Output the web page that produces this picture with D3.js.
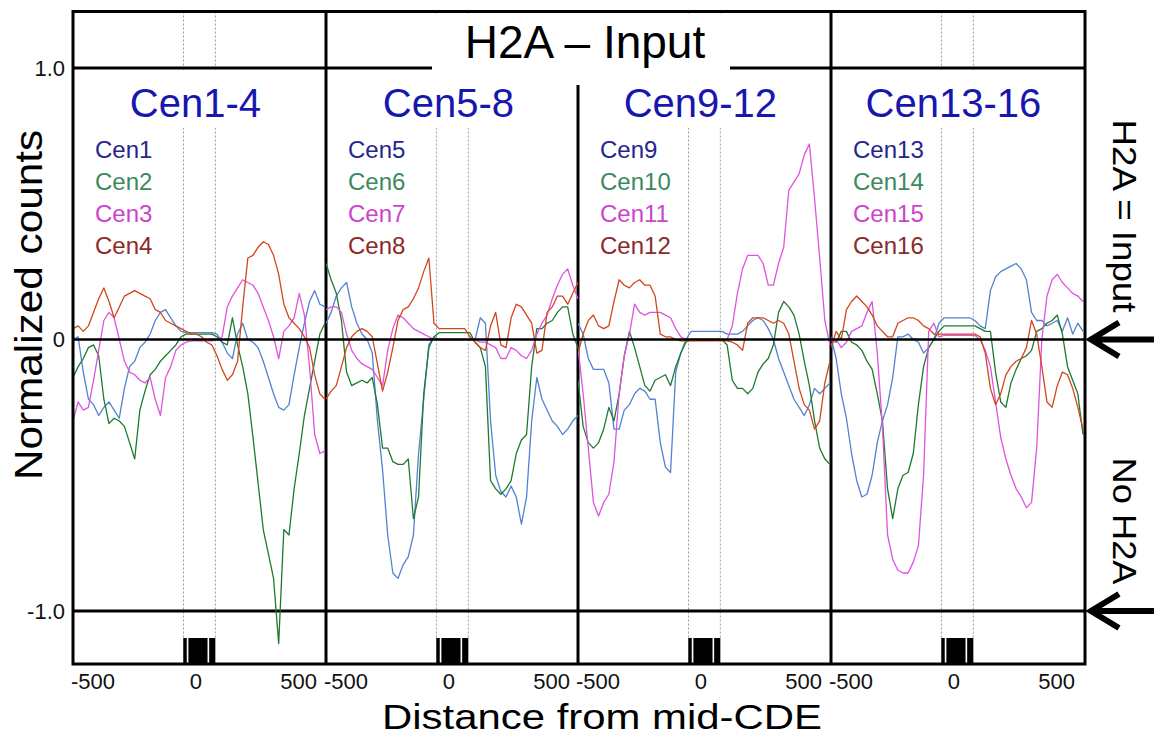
<!DOCTYPE html>
<html lang="en">
  <head>
    <meta charset="utf-8">
    <title>H2A - Input</title>
    <script src="https://d3js.org/d3.v7.min.js"></script>
    <style>
      body { margin: 0; background: white; }
      text { font-family: "Liberation Sans", Arial, sans-serif; }
    </style>
  </head>

  <body>
  <script>

    // positions (bp from mid-CDE) shared by every profile
    const positions = [-595, -570, -545, -520, -495, -470, -445, -420, -395, -370,
                       -345, -320, -295, -270, -245, -220, -195, -170, -145, -120,
                       -95, -70, -45, -20, 5, 30, 55, 80, 105, 130,
                       155, 180, 205, 230, 255, 280, 305, 330, 355, 380,
                       405, 430, 455, 480, 505, 530, 555, 580, 605, 630];

    const panelTitles = ["Cen1-4", "Cen5-8", "Cen9-12", "Cen13-16"];
    const seriesNames = [["Cen1", "Cen2", "Cen3", "Cen4"],
                         ["Cen5", "Cen6", "Cen7", "Cen8"],
                         ["Cen9", "Cen10", "Cen11", "Cen12"],
                         ["Cen13", "Cen14", "Cen15", "Cen16"]];

    const xTicks = [-500, 0, 500];
    const yTicks = [1, 0, -1];
    // CDEI, CDEII, CDEIII blocks and the dotted guide lines
    const cdeBlocks = [[-59, -42], [-34, 59], [67, 97]];
    const cdeGuides = [-58, 97];

    const cen1 = [0.00, 0.01, -0.12, -0.22, -0.24, -0.28, -0.25, -0.23, -0.26, -0.29,
                  -0.18, -0.10, -0.08, -0.03, -0.01, 0.02, 0.07, 0.10, 0.11, 0.08,
                  0.05, 0.03, 0.025, 0.025, 0.025, 0.025, 0.025, 0.025, 0.02, -0.01,
                  -0.05, -0.07, 0.02, 0.06, 0.00, -0.01, -0.03, -0.08, -0.14, -0.20,
                  -0.25, -0.26, -0.24, -0.13, -0.03, 0.06, 0.14, 0.18, 0.13, 0.12];
    const cen2 = [-0.14, -0.10, -0.07, -0.03, -0.02, -0.06, -0.22, -0.31, -0.29, -0.30,
                  -0.32, -0.38, -0.44, -0.26, -0.19, -0.13, -0.11, -0.08, -0.06, -0.04,
                  -0.02, 0.01, 0.02, 0.02, 0.02, 0.02, 0.02, 0.02, 0.01, -0.01,
                  -0.02, 0.08, -0.02, -0.10, -0.20, -0.36, -0.53, -0.70, -0.79, -0.88,
                  -1.12, -0.70, -0.72, -0.55, -0.42, -0.28, -0.18, -0.08, 0.02, 0.06];
    const cen3 = [-0.30, -0.23, -0.26, -0.25, -0.15, -0.04, 0.07, 0.10, 0.08, 0.00,
                  -0.08, -0.12, -0.13, -0.15, -0.16, -0.14, -0.22, -0.28, -0.14, -0.10,
                  -0.04, -0.02, -0.01, -0.005, -0.005, -0.005, -0.005, -0.005, 0.00, 0.01,
                  0.12, 0.16, 0.19, 0.22, 0.21, 0.20, 0.17, 0.12, 0.07, 0.01,
                  -0.07, 0.03, 0.05, 0.08, 0.17, 0.09, -0.10, -0.35, -0.42, -0.41];
    const cen4 = [0.04, 0.05, 0.03, 0.05, 0.10, 0.15, 0.19, 0.14, 0.08, 0.12,
                  0.16, 0.17, 0.18, 0.17, 0.16, 0.15, 0.11, 0.10, 0.07, 0.06,
                  0.05, 0.04, 0.03, 0.02, 0.02, 0.01, -0.01, -0.02, -0.06, -0.11,
                  -0.15, -0.13, -0.08, 0.12, 0.30, 0.31, 0.34, 0.36, 0.35, 0.31,
                  0.24, 0.13, 0.08, 0.06, 0.04, 0.01, -0.03, -0.13, -0.20, -0.22];

    const cen5 = [0.06, 0.10, 0.16, 0.19, 0.21, 0.12, 0.06, 0.02, 0.00, -0.05,
                  -0.30, -0.48, -0.72, -0.86, -0.88, -0.83, -0.80, -0.72, -0.42, -0.22,
                  -0.02, 0.01, 0.00, 0.00, 0.00, 0.00, 0.00, 0.00, 0.00, 0.00,
                  0.08, 0.06, -0.30, -0.50, -0.56, -0.58, -0.54, -0.58, -0.68, -0.58,
                  -0.30, -0.14, -0.22, -0.26, -0.30, -0.32, -0.35, -0.33, -0.30, -0.28];
    const cen6 = [0.28, 0.22, 0.17, 0.07, -0.12, -0.17, -0.16, -0.15, -0.16, -0.14,
                  -0.24, -0.40, -0.40, -0.45, -0.46, -0.46, -0.44, -0.66, -0.58, -0.20,
                  -0.03, 0.01, 0.025, 0.025, 0.025, 0.025, 0.025, 0.025, 0.025, -0.01,
                  -0.03, -0.10, -0.52, -0.55, -0.57, -0.55, -0.52, -0.42, -0.37, -0.35,
                  -0.10, 0.04, 0.04, 0.06, 0.07, 0.10, 0.12, 0.12, 0.02, -0.03];
    const cen7 = [0.11, 0.12, 0.12, 0.10, 0.02, -0.04, -0.07, -0.09, -0.10, -0.11,
                  -0.14, -0.17, -0.04, 0.04, 0.09, 0.08, 0.06, 0.04, 0.03, 0.02,
                  0.01, 0.00, 0.00, 0.00, 0.00, 0.00, 0.00, 0.00, 0.00, 0.00,
                  -0.01, -0.01, -0.02, -0.03, -0.07, -0.07, -0.03, -0.04, -0.06, -0.07,
                  -0.04, 0.02, 0.06, 0.09, 0.15, 0.20, 0.24, 0.26, 0.20, 0.15];
    const cen8 = [-0.22, -0.19, -0.17, -0.10, -0.03, 0.01, 0.03, 0.04, 0.03, 0.01,
                  -0.09, -0.19, -0.12, -0.03, 0.07, 0.11, 0.12, 0.15, 0.19, 0.25,
                  0.30, 0.06, 0.04, 0.04, 0.04, 0.04, 0.04, 0.04, 0.01, -0.01,
                  -0.03, -0.04, 0.05, 0.10, -0.02, -0.03, 0.08, 0.13, 0.12, 0.09,
                  0.06, -0.05, -0.04, 0.10, 0.12, 0.16, 0.16, 0.13, 0.17, 0.21];

    const cen9 = [0.06, 0.02, -0.07, -0.11, -0.11, -0.11, -0.16, -0.33, -0.33, -0.26,
                  -0.24, -0.20, -0.18, -0.19, -0.22, -0.22, -0.38, -0.47, -0.49, -0.12,
                  -0.05, 0.00, 0.03, 0.03, 0.03, 0.03, 0.03, 0.03, 0.03, 0.02,
                  0.02, 0.02, 0.03, 0.05, 0.07, 0.08, 0.07, 0.04, 0.00, -0.07,
                  -0.12, -0.17, -0.22, -0.25, -0.28, -0.24, -0.18, -0.20, -0.18, -0.16];
    const cen10 = [-0.15, -0.32, -0.38, -0.40, -0.38, -0.33, -0.25, -0.30, -0.20, -0.06,
                   0.03, -0.03, -0.10, -0.17, -0.19, -0.15, -0.14, -0.13, -0.17, -0.10,
                   -0.05, -0.01, 0.00, 0.00, 0.00, 0.00, 0.00, 0.00, 0.00, -0.02,
                   -0.15, -0.18, -0.18, -0.20, -0.18, -0.12, -0.09, -0.07, -0.02, 0.10,
                   0.14, 0.12, 0.09, 0.02, -0.08, -0.17, -0.30, -0.40, -0.44, -0.46];
    const cen11 = [-0.03, -0.20, -0.40, -0.60, -0.65, -0.60, -0.57, -0.45, -0.20, -0.06,
                   0.02, 0.13, 0.10, 0.09, 0.10, 0.10, 0.10, 0.09, 0.08, 0.04,
                   0.01, 0.00, 0.00, 0.00, 0.00, 0.00, 0.00, 0.00, 0.00, 0.00,
                   0.05, 0.17, 0.26, 0.31, 0.31, 0.31, 0.28, 0.20, 0.20, 0.28,
                   0.34, 0.55, 0.58, 0.61, 0.68, 0.72, 0.52, 0.30, 0.07, -0.02];
    const cen12 = [-0.05, 0.02, 0.07, 0.09, 0.05, 0.04, 0.05, 0.14, 0.22, 0.20,
                   0.19, 0.21, 0.22, 0.20, 0.20, 0.16, 0.02, 0.01, 0.01, 0.00,
                   -0.005, -0.005, -0.005, -0.005, -0.005, -0.005, -0.005, -0.005, -0.005, -0.005,
                   -0.01, -0.02, -0.04, 0.06, 0.08, 0.08, 0.08, 0.07, 0.06, 0.07,
                   0.06, 0.02, -0.08, -0.18, -0.24, -0.26, -0.33, -0.30, -0.16, -0.08];

    const cen13 = [0.01, -0.07, -0.20, -0.29, -0.42, -0.52, -0.58, -0.57, -0.50, -0.38,
                   -0.30, -0.24, -0.14, 0.01, 0.01, 0.02, 0.00, -0.01, -0.05, -0.03,
                   0.00, 0.06, 0.08, 0.08, 0.08, 0.08, 0.08, 0.08, 0.07, 0.05,
                   0.04, 0.18, 0.23, 0.25, 0.26, 0.27, 0.28, 0.26, 0.22, 0.10,
                   0.07, 0.07, 0.05, 0.06, 0.07, 0.03, 0.08, 0.02, 0.06, 0.03];
    const cen14 = [0.00, -0.01, 0.03, 0.03, -0.01, -0.02, -0.04, -0.08, -0.11, -0.20,
                   -0.30, -0.55, -0.66, -0.55, -0.50, -0.49, -0.42, -0.24, -0.10, -0.03,
                   0.00, 0.03, 0.05, 0.05, 0.05, 0.05, 0.05, 0.05, 0.05, 0.04,
                   0.03, 0.03, -0.12, -0.23, -0.25, -0.16, -0.11, -0.07, -0.06, -0.04,
                   0.03, 0.04, 0.06, 0.07, 0.09, 0.02, -0.10, -0.15, -0.20, -0.35];
    const cen15 = [-0.02, 0.00, -0.03, -0.01, 0.03, 0.04, 0.05, 0.10, 0.14, -0.05,
                   -0.32, -0.72, -0.81, -0.85, -0.86, -0.86, -0.82, -0.76, -0.50, 0.03,
                   0.06, 0.01, 0.015, 0.015, 0.015, 0.015, 0.015, 0.015, 0.015, 0.00,
                   -0.04, -0.10, -0.23, -0.36, -0.44, -0.50, -0.55, -0.58, -0.62, -0.60,
                   -0.40, 0.00, 0.16, 0.22, 0.24, 0.21, 0.19, 0.17, 0.16, 0.14];
    const cen16 = [-0.03, 0.03, 0.00, 0.11, 0.14, 0.16, 0.14, 0.12, 0.09, 0.05,
                   0.03, 0.01, 0.01, 0.06, 0.07, 0.08, 0.08, 0.07, 0.05, 0.04,
                   0.02, 0.02, 0.02, 0.02, 0.02, 0.02, 0.02, 0.02, 0.02, 0.01,
                   -0.05, -0.18, -0.24, -0.20, -0.13, -0.10, -0.08, -0.07, -0.03, 0.07,
                   0.02, -0.10, -0.23, -0.25, -0.17, -0.12, -0.13, -0.18, -0.25, -0.33];

    const panelSeries = [[cen1, cen2, cen3, cen4],
                         [cen5, cen6, cen7, cen8],
                         [cen9, cen10, cen11, cen12],
                         [cen13, cen14, cen15, cen16]];

    const lineColors = ["#5282d2", "#1e7a2e", "#e052e0", "#d2461e"];
    const legendColors = ["#25258f", "#3b8a5c", "#cc44cc", "#8c2a2a"];

    // layout
    const w = 1154;
    const h = 738;
    const frameTop = 11.5;
    const frameBottom = 664;
    const panelLefts = [73, 326, 578, 831];
    const panelW = 253;
    const right = 1085;

    const yScale = d3.scaleLinear()
                     .domain([-1, 1])
                     .range([611, 68]);

    const xScales = panelLefts.map(L => d3.scaleLinear()
                                          .domain([-595, 635])
                                          .range([L, L + panelW]));

    const svg = d3.select("body")
                  .append("svg")
                  .attr("width", w)
                  .attr("height", h);

    svg.append("rect")
       .attr("width", w)
       .attr("height", h)
       .attr("fill", "white");

    const defs = svg.append("defs");
    panelLefts.forEach((L, i) => {
      defs.append("clipPath")
          .attr("id", "clip" + i)
          .append("rect")
          .attr("x", L)
          .attr("y", frameTop)
          .attr("width", panelW)
          .attr("height", frameBottom - frameTop);
    });

    // dotted guides at the CDE edges
    xScales.forEach(x => {
      cdeGuides.forEach(g => {
        svg.append("line")
           .attr("x1", x(g)).attr("x2", x(g))
           .attr("y1", frameTop).attr("y2", 638)
           .attr("stroke", "#9a9a9a")
           .attr("stroke-width", 1)
           .attr("stroke-dasharray", "2,2");
      });
    });

    // y = 1.0 and -1.0 lines
    [1, -1].forEach(v => {
      svg.append("line")
         .attr("x1", panelLefts[0]).attr("x2", right)
         .attr("y1", yScale(v)).attr("y2", yScale(v))
         .attr("stroke", "black")
         .attr("stroke-width", 3);
    });

    // main title with its white box
    svg.append("rect")
       .attr("x", 432).attr("y", 14)
       .attr("width", 298).attr("height", 70)
       .attr("fill", "white");

    svg.append("text")
       .attr("x", 585).attr("y", 58)
       .attr("text-anchor", "middle")
       .attr("font-size", 46)
       .text("H2A \u2013 Input");

    // panel dividers (the middle one stops under the title)
    [[326, frameTop], [578, 85], [831, frameTop]].forEach(d => {
      svg.append("line")
         .attr("x1", d[0]).attr("x2", d[0])
         .attr("y1", d[1]).attr("y2", frameBottom)
         .attr("stroke", "black")
         .attr("stroke-width", 3);
    });

    // panels
    panelLefts.forEach((L, p) => {
      const x = xScales[p];
      const g = svg.append("g");

      const title = g.append("text")
                     .attr("x", x(0)).attr("y", 117)
                     .attr("text-anchor", "middle")
                     .attr("font-size", 40)
                     .attr("fill", "#1717b0")
                     .text(panelTitles[p]);
      const tw = title.node().getComputedTextLength();
      g.insert("rect", "text")
       .attr("x", x(0) - tw / 2 - 4).attr("y", 70)
       .attr("width", tw + 8).attr("height", 58)
       .attr("fill", "white");

      g.selectAll(".legend")
       .data(seriesNames[p])
       .enter().append("text")
       .attr("class", "legend")
       .attr("x", L + 22)
       .attr("y", (d, i) => 158 + 32 * i)
       .attr("font-size", 24)
       .attr("fill", (d, i) => legendColors[i])
       .text(d => d);

      const line = d3.line()
                     .x((d, i) => x(positions[i]))
                     .y(d => yScale(d));

      svg.append("g")
         .attr("clip-path", `url(#clip${p})`)
         .selectAll("path")
         .data(panelSeries[p])
         .enter().append("path")
         .attr("d", line)
         .attr("fill", "none")
         .attr("stroke", (d, i) => lineColors[i])
         .attr("stroke-width", 1.3)
         .attr("stroke-linejoin", "round");

      // CDE element blocks
      svg.append("g")
         .selectAll("rect")
         .data(cdeBlocks)
         .enter().append("rect")
         .attr("x", d => x(d[0]))
         .attr("width", d => x(d[1]) - x(d[0]))
         .attr("y", 638)
         .attr("height", frameBottom - 638)
         .attr("fill", "black");

      // x axis labels
      const xAxis = d3.axisBottom(x)
                      .tickValues(xTicks)
                      .tickSize(0)
                      .tickPadding(9)
                      .tickFormat(d => String(d));

      const ax = svg.append("g")
                    .attr("transform", `translate(0, ${frameBottom})`)
                    .call(xAxis);
      ax.select(".domain").remove();
      ax.selectAll("text")
        .attr("font-size", 22)
        .attr("font-family", "Liberation Sans, Arial, sans-serif")
        .attr("fill", "#111");
    });

    // zero line
    svg.append("line")
       .attr("x1", panelLefts[0]).attr("x2", right)
       .attr("y1", yScale(0)).attr("y2", yScale(0))
       .attr("stroke", "black")
       .attr("stroke-width", 2.5);

    // outer frame
    svg.append("rect")
       .attr("x", panelLefts[0]).attr("y", frameTop)
       .attr("width", right - panelLefts[0])
       .attr("height", frameBottom - frameTop)
       .attr("fill", "none")
       .attr("stroke", "black")
       .attr("stroke-width", 3);

    // y axis labels
    const yAxis = d3.axisLeft(yScale)
                    .tickValues(yTicks)
                    .tickSize(0)
                    .tickPadding(8)
                    .tickFormat(d => d === 0 ? "0" : d.toFixed(1));

    const ay = svg.append("g")
                  .attr("transform", `translate(${panelLefts[0]}, 0)`)
                  .call(yAxis);
    ay.select(".domain").remove();
    ay.selectAll("text")
      .attr("font-size", 22)
      .attr("font-family", "Liberation Sans, Arial, sans-serif")
      .attr("fill", "#111");

    // axis titles
    svg.append("text")
       .attr("transform", "translate(42, 305) rotate(-90)")
       .attr("text-anchor", "middle")
       .attr("font-size", 39)
       .attr("textLength", 350)
       .attr("lengthAdjust", "spacingAndGlyphs")
       .text("Normalized counts");

    svg.append("text")
       .attr("x", 602).attr("y", 729)
       .attr("text-anchor", "middle")
       .attr("font-size", 35)
       .attr("textLength", 440)
       .attr("lengthAdjust", "spacingAndGlyphs")
       .text("Distance from mid-CDE");

    // right side notes and arrows
    svg.append("text")
       .attr("transform", "translate(1113, 216) rotate(90)")
       .attr("text-anchor", "middle")
       .attr("font-size", 33)
       .attr("textLength", 193)
       .attr("lengthAdjust", "spacingAndGlyphs")
       .text("H2A = Input");

    svg.append("text")
       .attr("transform", "translate(1113, 521) rotate(90)")
       .attr("text-anchor", "middle")
       .attr("font-size", 33)
       .attr("textLength", 127)
       .attr("lengthAdjust", "spacingAndGlyphs")
       .text("No H2A");

    [0, -1].forEach(v => {
      const y = yScale(v);
      svg.append("path")
         .attr("d", `M1154,${y} H1091 M1119,${y - 17} L1091,${y} L1119,${y + 17}`)
         .attr("fill", "none")
         .attr("stroke", "black")
         .attr("stroke-width", 6);
    });

  </script>
  </body>
</html>
